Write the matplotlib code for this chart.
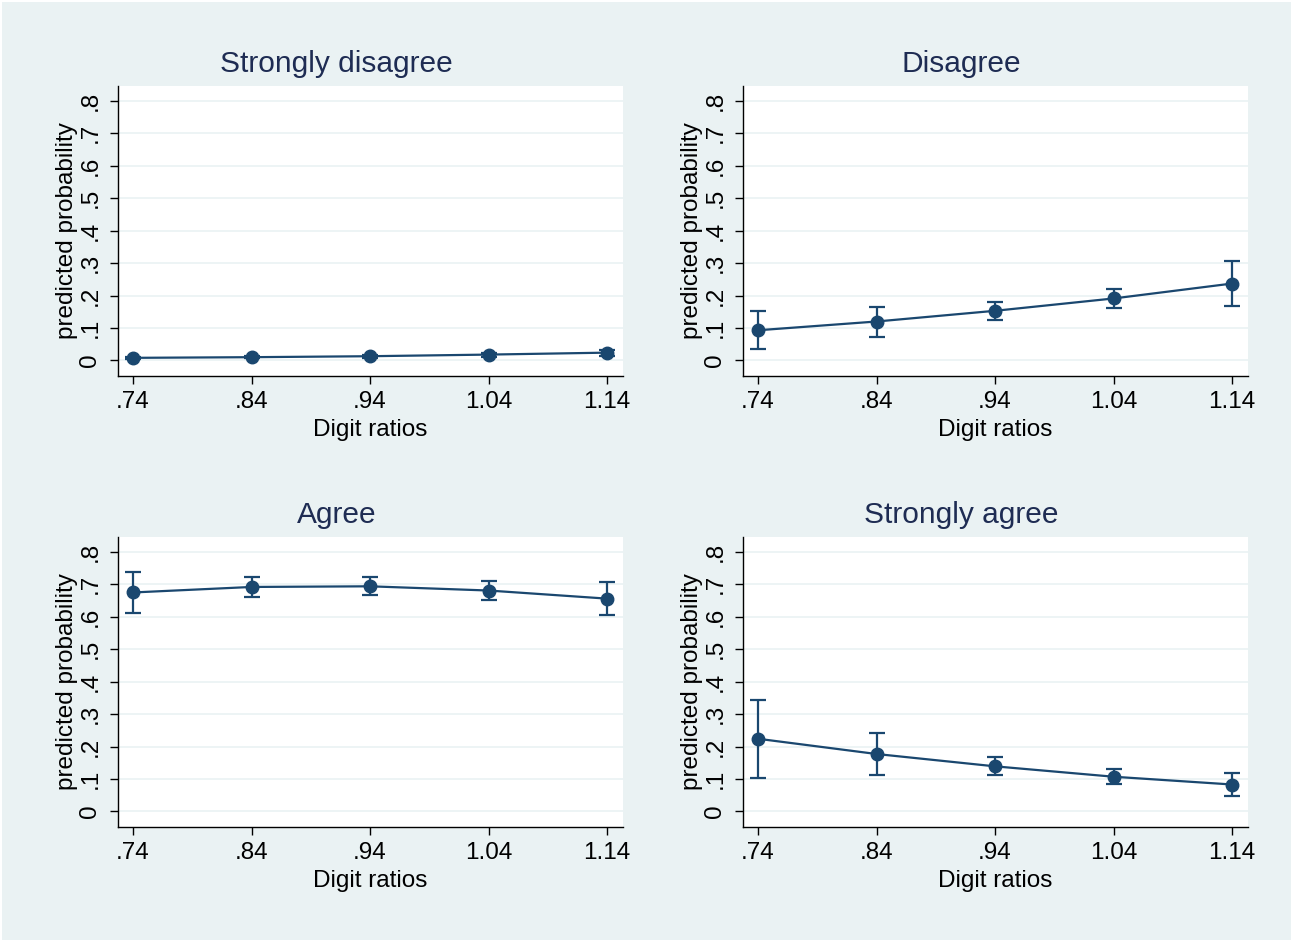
import matplotlib
matplotlib.use("Agg")
import matplotlib.pyplot as plt
from matplotlib.patches import Rectangle

plt.rcParams['font.family'] = ['Liberation Sans', 'DejaVu Sans']

x = [0.74, 0.84, 0.94, 1.04, 1.14]
xticklabels = ['.74', '.84', '.94', '1.04', '1.14']
yticks = [0, 0.1, 0.2, 0.3, 0.4, 0.5, 0.6, 0.7, 0.8]
yticklabels = ['0', '.1', '.2', '.3', '.4', '.5', '.6', '.7', '.8']

titles = ['Strongly disagree', 'Disagree', 'Agree', 'Strongly agree']

sd_est = [0.008, 0.010, 0.013, 0.018, 0.024]
sd_lo = [0.004, 0.006, 0.009, 0.012, 0.015]
sd_hi = [0.012, 0.014, 0.017, 0.024, 0.033]

d_est = [0.093, 0.120, 0.153, 0.191, 0.237]
d_lo = [0.034, 0.073, 0.125, 0.162, 0.167]
d_hi = [0.151, 0.166, 0.181, 0.219, 0.306]

a_est = [0.675, 0.692, 0.694, 0.681, 0.656]
a_lo = [0.612, 0.661, 0.667, 0.653, 0.605]
a_hi = [0.738, 0.723, 0.722, 0.709, 0.706]

sa_est = [0.224, 0.177, 0.139, 0.107, 0.083]
sa_lo = [0.103, 0.113, 0.112, 0.086, 0.049]
sa_hi = [0.344, 0.242, 0.167, 0.130, 0.118]

series = [(sd_est, sd_lo, sd_hi), (d_est, d_lo, d_hi),
          (a_est, a_lo, a_hi), (sa_est, sa_lo, sa_hi)]

BG = '#EAF2F3'
NAVY = '#1A476F'
TITLE_C = '#1E2C53'

W, H = 1293, 942
fig = plt.figure(figsize=(W / 100, H / 100), dpi=100, facecolor='white')
fig.patches.append(Rectangle((2 / W, 2 / H), 1 - 4 / W, 1 - 4 / H, transform=fig.transFigure,
                             facecolor=BG, edgecolor='none', zorder=-10))

lefts = [118, 743]
tops = [86, 537]
title_y = [64, 515]
pw, ph = 505, 290
FS = 17.5

for i, (est, lo, hi) in enumerate(series):
    r, c = divmod(i, 2)
    l = lefts[c]
    t = tops[r]
    ax = fig.add_axes([l / W, 1 - (t + ph) / H, pw / W, ph / H])
    ax.set_facecolor('white')
    ax.set_xlim(0.7273, 1.1535)
    ax.set_ylim(-0.048, 0.846)
    ax.set_yticks(yticks)
    ax.set_yticklabels(yticklabels, rotation=90, va='center', fontsize=FS)
    ax.set_xticks(x)
    ax.set_xticklabels(xticklabels, fontsize=FS)
    ax.grid(axis='y', color=BG, linewidth=1.2)
    ax.set_axisbelow(True)
    for s in ['top', 'right']:
        ax.spines[s].set_visible(False)
    for s in ['left', 'bottom']:
        ax.spines[s].set_linewidth(1.0)
        ax.spines[s].set_color('black')
    ax.tick_params(axis='x', length=6, width=1.0, pad=5, colors='black')
    ax.tick_params(axis='y', length=6, width=1.0, pad=6, colors='black')
    yerr = [[e - a for e, a in zip(est, lo)], [b - e for e, b in zip(est, hi)]]
    ax.errorbar(x, est, yerr=yerr, fmt='none', ecolor=NAVY, elinewidth=1.6,
                capsize=6, capthick=1.6, zorder=3)
    ax.plot(x, est, '-o', color=NAVY, lw=1.6, markersize=9, zorder=4)
    ax.set_xlabel('Digit ratios', fontsize=FS, labelpad=4)
    ax.set_ylabel('predicted probability', fontsize=FS, labelpad=1)
    cx = (l - 68 + l + pw) / 2
    fig.text(cx / W, 1 - title_y[r] / H, titles[i], fontsize=21.5, color=TITLE_C,
             ha='center', va='center')

fig.savefig('out.png', dpi=100, facecolor=fig.get_facecolor())
